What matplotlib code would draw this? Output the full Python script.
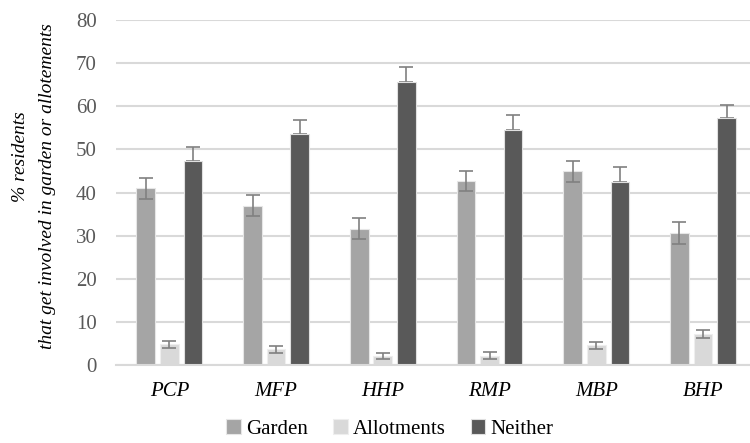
import numpy as np
import matplotlib.pyplot as plt

# parks and survey shares (%)
parks = ["PCP", "MFP", "HHP", "RMP", "MBP", "BHP"]
garden = [41.0, 36.9, 31.6, 42.7, 44.9, 30.6]
garden_err = [2.4, 2.45, 2.4, 2.4, 2.4, 2.45]
allot = [4.8, 3.6, 2.1, 2.2, 4.6, 7.2]
allot_err = [0.85, 0.85, 0.7, 0.8, 0.8, 0.85]
neither = [47.3, 53.5, 65.6, 54.5, 42.4, 57.2]
neither_err = [3.2, 3.4, 3.4, 3.4, 3.4, 3.2]

plt.rcParams['font.family'] = ['Liberation Serif', 'DejaVu Serif']

fig = plt.figure(figsize=(7.5, 4.43), dpi=100)
ax = fig.add_axes([116/750, 78/443, 634/750, 345/443])

x = np.arange(len(parks))
w = 0.175
off = 0.221
ekw = dict(ecolor="#808080", elinewidth=1.2, capsize=5, capthick=1.2)

ax.bar(x - off, garden, w, color="#a5a5a5", edgecolor="#e6e6e6", linewidth=0.8,
       label="Garden", zorder=2)
ax.bar(x, allot, w, color="#d9d9d9", edgecolor="#eeeeee", linewidth=0.8,
       label="Allotments", zorder=2)
ax.bar(x + off, neither, w, color="#595959", edgecolor="#e0e0e0", linewidth=0.8,
       label="Neither", zorder=2)
ax.errorbar(x - off, garden, yerr=garden_err, fmt="none", zorder=3, **ekw)
ax.errorbar(x, allot, yerr=allot_err, fmt="none", zorder=3, **ekw)
ax.errorbar(x + off, neither, yerr=[np.zeros(6), neither_err], fmt="none",
            zorder=1, **ekw)

ax.set_ylim(0, 80)
ax.set_xlim(-0.5, 5.44)
ax.set_yticks(range(0, 81, 10))
ax.set_xticks(x)
ax.set_xticklabels(parks, fontstyle="italic", fontsize=15)
ax.tick_params(axis="y", length=0, pad=14, labelsize=15, labelcolor="#595959")
ax.tick_params(axis="x", length=0, pad=12, labelcolor="#000000")
ax.grid(axis="y", color="#d9d9d9", linewidth=1.5, zorder=0)
ax.set_axisbelow(True)
for s in ["top", "right", "left"]:
    ax.spines[s].set_visible(False)
ax.spines["bottom"].set_color("#d9d9d9")
ax.spines["bottom"].set_linewidth(1.5)

# y label, two lines (first one sits a bit higher in the original)
fig.text(21/750, 1 - 157/443, "% residents", rotation=90, ha="center",
         va="center", fontstyle="italic", fontsize=14)
fig.text(48/750, 1 - 186/443, "that get involved in garden or allotements",
         rotation=90, ha="center", va="center", fontstyle="italic", fontsize=14)

fig.legend(loc="center", bbox_to_anchor=(390/750, 1 - 429/443), ncol=3,
           frameon=False, fontsize=15, handlelength=0.7, handleheight=0.7,
           handletextpad=0.25, columnspacing=1.2)

fig.savefig("out.png", dpi=100)
